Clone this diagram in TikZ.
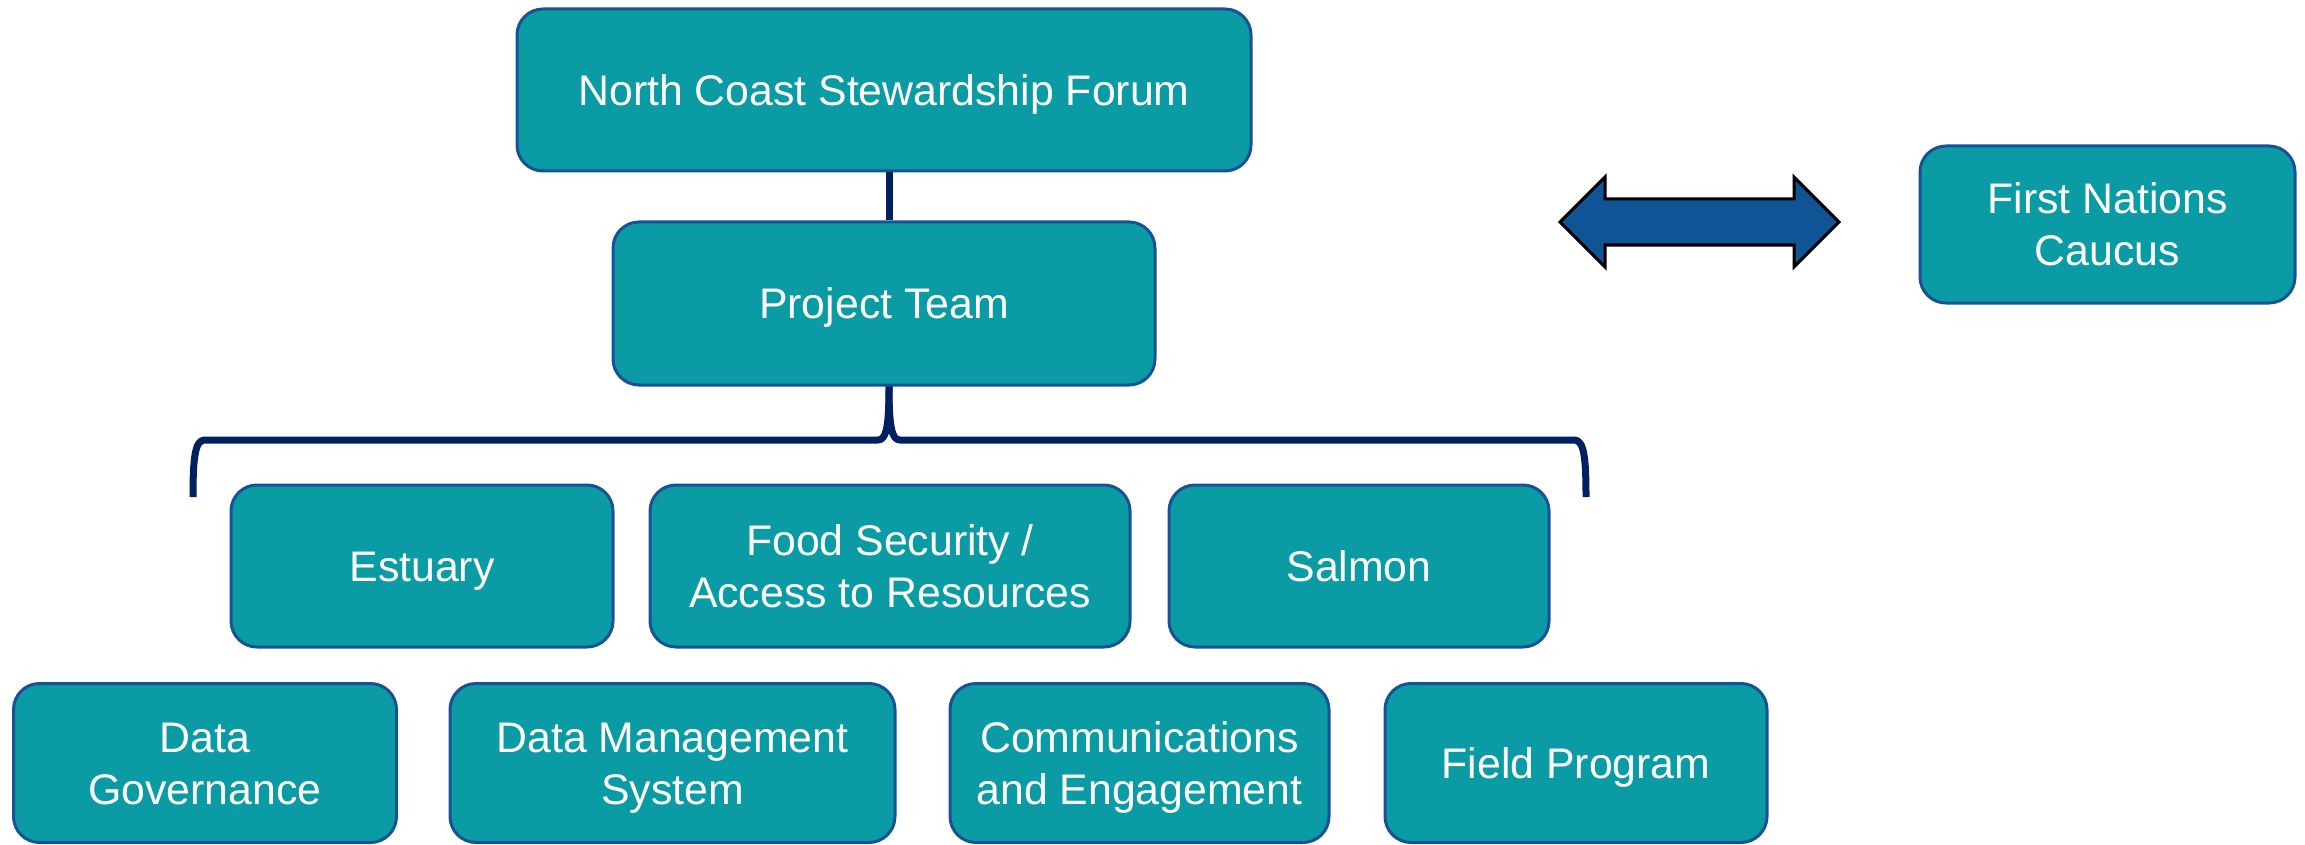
\documentclass[tikz,border=0pt]{standalone}
\usepackage{fontspec}
\setmainfont{Liberation Sans}
\definecolor{boxfill}{RGB}{10,155,164}
\definecolor{boxline}{RGB}{24,82,150}
\definecolor{navy}{RGB}{0,32,96}
\definecolor{arrowfill}{RGB}{15,85,150}
\tikzset{
  box/.style={draw=boxline, line width=3pt, fill=boxfill, rounded corners=26pt,
    inner sep=0pt, align=center, text=white,
    font=\fontsize{42.8}{52}\selectfont},
  oneline/.style={text height=30.5pt, text depth=0pt},
  twoline/.style={text height=82.5pt, text depth=0pt},
  conn/.style={draw=navy, line width=7pt},
}
\begin{document}
\begin{tikzpicture}[x=1pt,y=-1pt]
\useasboundingbox (0,0) rectangle (2305,845);
% top nodes
\node[box, oneline, minimum width=734pt, minimum height=162pt] (ncsf) at (884,90) {North Coast Stewardship Forum};
\node[box, oneline, minimum width=542pt, minimum height=163pt] (pt) at (884,303.5) {Project Team};
% row 1
\node[box, oneline, minimum width=382pt, minimum height=162pt] (est) at (422,566) {Estuary};
\node[box, twoline, minimum width=480pt, minimum height=162pt] (food) at (890,566) {Food Security /\\Access to Resources};
\node[box, oneline, minimum width=380pt, minimum height=162pt] (salmon) at (1359,566) {Salmon};
% row 2
\node[box, twoline, minimum width=383pt, minimum height=159pt] (dg) at (205,763) {Data\\Governance};
\node[box, twoline, minimum width=445pt, minimum height=159pt] (dms) at (672.5,763) {Data Management\\System};
\node[box, twoline, minimum width=379pt, minimum height=159pt] (ce) at (1139.5,763) {Communications\\and Engagement};
\node[box, oneline, minimum width=382pt, minimum height=159pt] (fp) at (1576,763) {Field Program};
% first nations caucus
\node[box, twoline, minimum width=375pt, minimum height=157pt] (fnc) at (2107.5,224.5) {First Nations\\Caucus};
% connector
\coordinate (cx) at (889,0);
\draw[conn] (ncsf.south -| cx) -- (pt.north -| cx);
% brace
\coordinate (bl) at (193,497);
\coordinate (br) at (1586,497);
\draw[conn, line join=round]
  (bl) .. controls (193,458) and (195,441) .. (204,440) -- (878,440)
  .. controls (886,440) and (889,428) .. (pt.south -| cx);
\draw[conn, line join=round]
  (br) .. controls (1586,458) and (1584,441) .. (1575,440) -- (900,440)
  .. controls (892,440) and (889,428) .. (pt.south -| cx);
% double arrow
\draw[draw=black, line width=3pt, fill=arrowfill, line join=miter]
  (1560,222) -- (1605,177) -- (1605,199) -- (1794,199) -- (1794,177)
  -- (1839,222) -- (1794,267) -- (1794,245) -- (1605,245) -- (1605,267) -- cycle;
\end{tikzpicture}
\end{document}
